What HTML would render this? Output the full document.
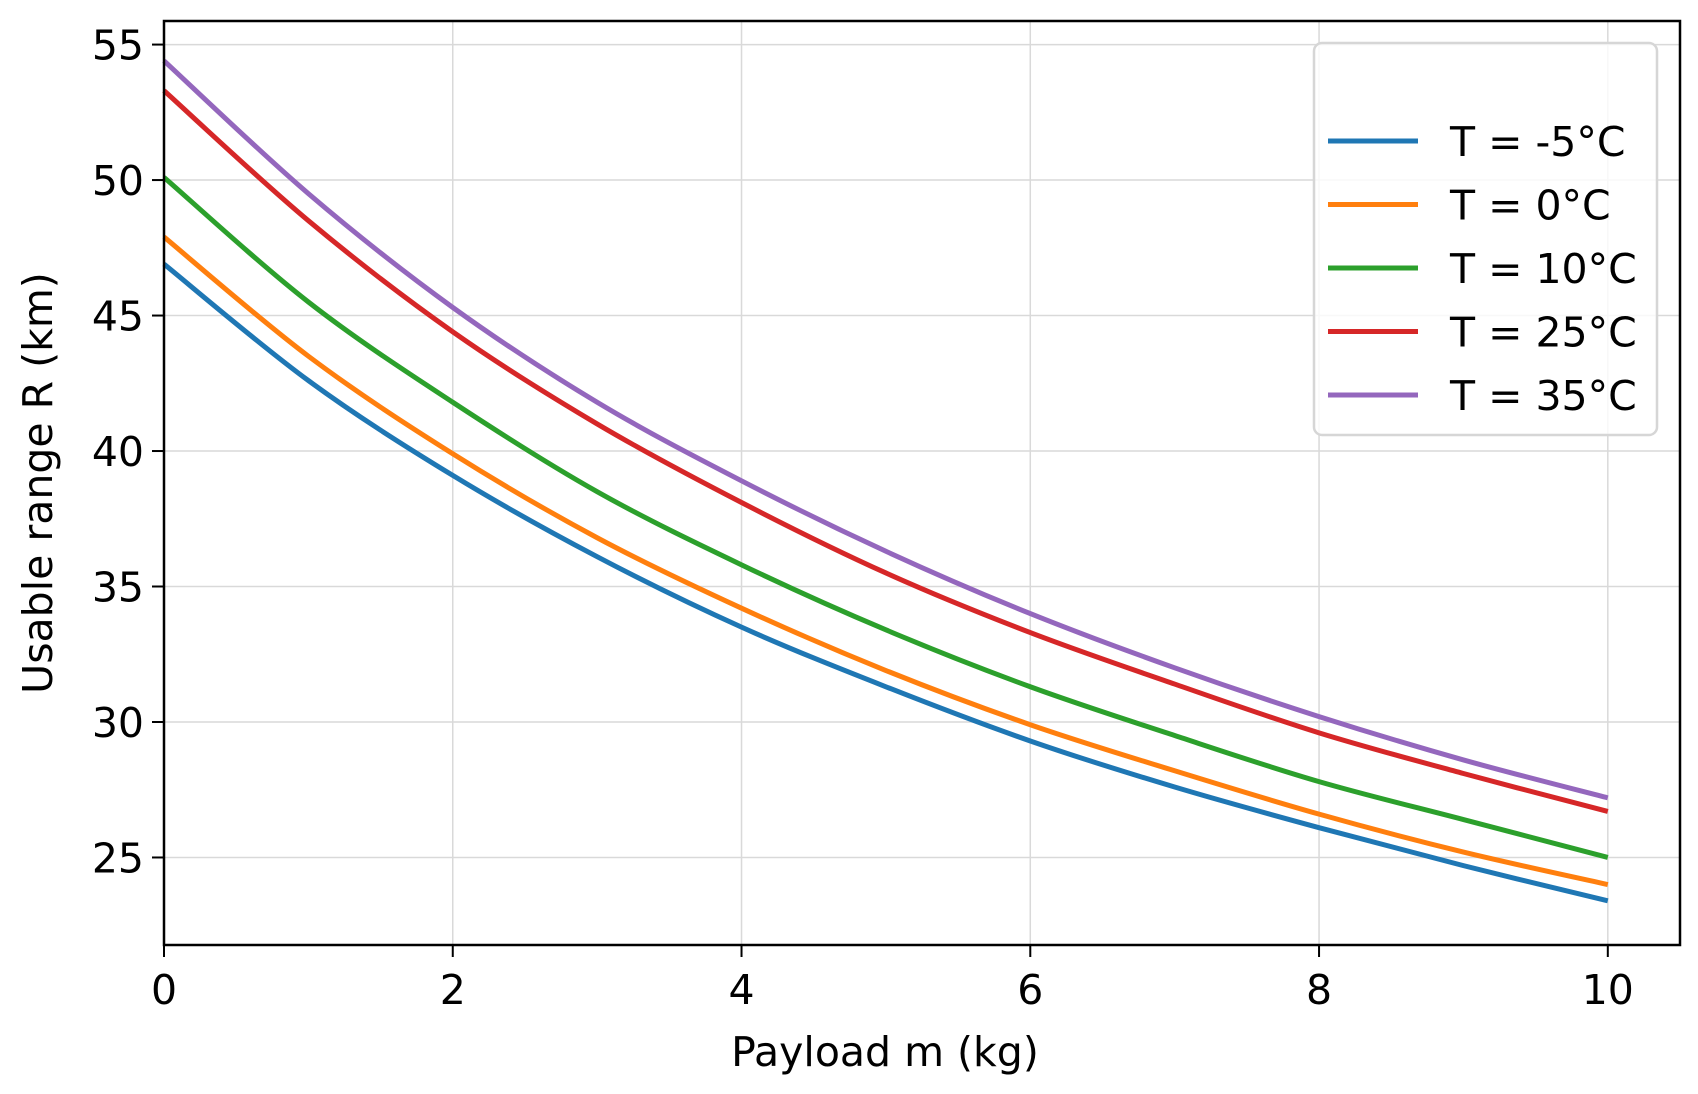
<!DOCTYPE html>
<html><head><meta charset="utf-8"><style>
html,body{margin:0;padding:0;background:#fff;}
svg{display:block;font-family:"DejaVu Sans","Liberation Sans",sans-serif;}
</style></head><body>
<svg id="chart" width="1698" height="1094" viewBox="0 0 1698 1094" xmlns="http://www.w3.org/2000/svg">
<g id="grid"></g>
<g id="series"></g>
<rect x="164" y="21" width="1516" height="924" fill="none" stroke="#000" stroke-width="2.5"/>
<g id="ticks"></g>
<text x="885" y="1066" font-size="41" text-anchor="middle">Payload m (kg)</text>
<text transform="translate(52,483) rotate(-90)" font-size="41" text-anchor="middle">Usable range R (km)</text>
<g id="legend"></g>
</svg>
<script>
const xValues=[0,1,2,3,4,5,6,7,8,9,10];
const seriesLabels=["T = -5°C","T = 0°C","T = 10°C","T = 25°C","T = 35°C"];
const seriesColors=["#1f77b4","#ff7f0e","#2ca02c","#d62728","#9467bd"];
const rMinus5=[46.9,42.6,39.1,36.1,33.5,31.3,29.3,27.6,26.1,24.7,23.4];
const r0=[47.9,43.5,39.9,36.8,34.2,31.9,29.9,28.2,26.6,25.2,24.0];
const r10=[50.1,45.5,41.8,38.5,35.8,33.4,31.3,29.5,27.8,26.4,25.0];
const r25=[53.3,48.5,44.4,41.0,38.1,35.5,33.3,31.4,29.6,28.1,26.7];
const r35=[54.4,49.5,45.3,41.8,38.9,36.3,34.0,32.0,30.2,28.6,27.2];
const xTicks=[0,2,4,6,8,10];
const yTicks=[25,30,35,40,45,50,55];

const NS="http://www.w3.org/2000/svg";
const L=164,R=1680,T=21,B=945;
const xMin=0,xMax=10.5,yMin=21.77,yMax=55.87;
const sx=v=>L+(v-xMin)/(xMax-xMin)*(R-L);
const sy=v=>B-(v-yMin)/(yMax-yMin)*(B-T);
function mk(tag,attrs,parent){const e=document.createElementNS(NS,tag);for(const k in attrs)e.setAttribute(k,attrs[k]);parent.appendChild(e);return e;}
const grid=document.getElementById('grid'),ticks=document.getElementById('ticks');
xTicks.forEach(v=>{
  const g=mk('line',{x1:sx(v),x2:sx(v),y1:T,y2:B,stroke:'#d9d9d9','stroke-width':1.5},grid);
  
  
  const t=mk('line',{x1:sx(v),x2:sx(v),y1:B,y2:B+12,stroke:'#000','stroke-width':2},ticks);
  
  
  const l=mk('text',{x:sx(v),y:B+59,'font-size':41,'text-anchor':'middle'},ticks);
  l.textContent=v;
  
  
});
yTicks.forEach(v=>{
  const g=mk('line',{x1:L,x2:R,y1:sy(v),y2:sy(v),stroke:'#d9d9d9','stroke-width':1.5},grid);
  
  
  const t=mk('line',{x1:L-12,x2:L,y1:sy(v),y2:sy(v),stroke:'#000','stroke-width':2},ticks);
  
  
  const l=mk('text',{x:L-20,y:sy(v)+15,'font-size':41,'text-anchor':'end'},ticks);
  l.textContent=v;
  
  
});
function smoothPath(xs,ys){
  const p=xs.map((x,i)=>[sx(x),sy(ys[i])]);
  let d=`M${p[0][0]},${p[0][1]}`;
  for(let i=0;i<p.length-1;i++){
    const p0=p[Math.max(0,i-1)],p1=p[i],p2=p[i+1],p3=p[Math.min(p.length-1,i+2)];
    const c1=[p1[0]+(p2[0]-p0[0])/6,p1[1]+(p2[1]-p0[1])/6];
    const c2=[p2[0]-(p3[0]-p1[0])/6,p2[1]-(p3[1]-p1[1])/6];
    d+=` C${c1[0]},${c1[1]} ${c2[0]},${c2[1]} ${p2[0]},${p2[1]}`;
  }
  return d;
}
const allSeries=[rMinus5,r0,r10,r25,r35];
const sg=document.getElementById('series');
allSeries.forEach((ys,i)=>{
  const p=mk('path',{d:smoothPath(xValues,ys),fill:'none',stroke:seriesColors[i],'stroke-width':5},sg);
  
  
});
const lg=document.getElementById('legend');
const box=mk('rect',{x:1314,y:43,width:343,height:392,rx:8,fill:'#fff','fill-opacity':0.8,stroke:'#d6d6d6','stroke-width':2.5},lg);


seriesLabels.forEach((s,i)=>{
  const y=141+i*63.5;
  const ln=mk('line',{x1:1328,x2:1418,y1:y,y2:y,stroke:seriesColors[i],'stroke-width':5},lg);
  
  
  const t=mk('text',{x:1450,y:y+15,'font-size':41},lg);
  t.textContent=s;
  
  
});
</script>
</body></html>
